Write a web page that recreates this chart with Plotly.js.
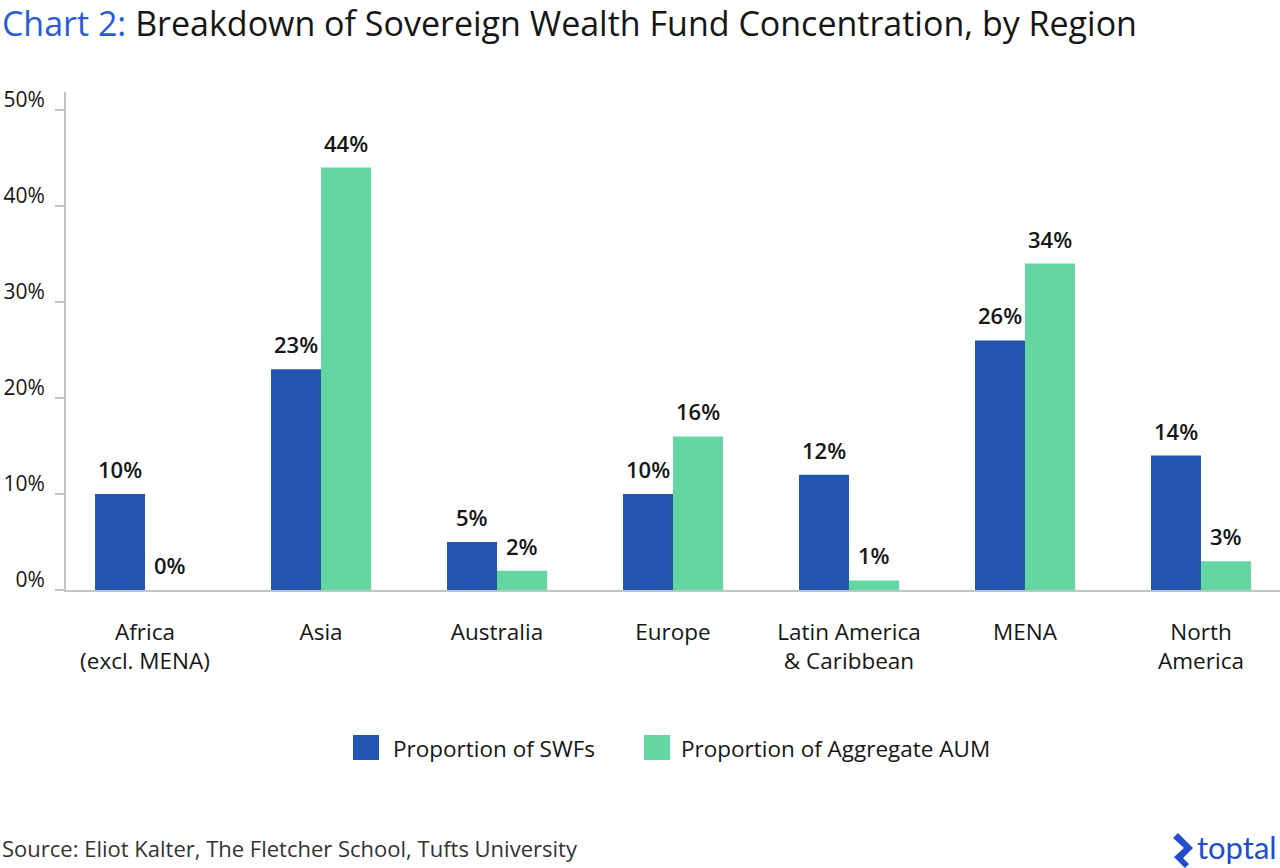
<!DOCTYPE html>
<html>
<head>
<meta charset="utf-8">
<script src="https://cdn.plot.ly/plotly-3.0.1.min.js"></script>
<style>
  html, body { margin: 0; padding: 0; background: #ffffff; }
  #chart { width: 1280px; height: 868px; }
</style>
</head>
<body>
<div id="chart"></div>
<script>
// Regions and their two-line axis labels
const categories = ['Africa (excl. MENA)', 'Asia', 'Australia', 'Europe',
  'Latin America & Caribbean', 'MENA', 'North America'];
const categoryLabels = ['Africa<br>(excl. MENA)', 'Asia', 'Australia', 'Europe',
  'Latin America<br>& Caribbean', 'MENA', 'North<br>America'];

// Share of sovereign wealth funds (count) and of aggregate assets under management, %
const swfShare = [10, 23, 5, 10, 12, 26, 14];
const aumShare = [0, 44, 2, 16, 1, 34, 3];

const seriesNames = ['Proportion of SWFs', 'Proportion of Aggregate AUM'];

const yTickValues = [0, 10, 20, 30, 40, 50];
const yTickLabels = ['0%', '10%', '20%', '30%', '40%', '50%'];

const BLUE = '#2155b0';
const GREEN = '#64d6a2';
const FONT = 'Open Sans, Lato, sans-serif';
const INK = '#161616';

// Page geometry
const W = 1280, H = 868;
const M = { l: 66, r: 0, t: 92, b: 278 };
const plotW = W - M.l - M.r;
const plotH = H - M.t - M.b;
const px2x = px => (px - M.l) / plotW;
const px2y = py => (H - M.b - py) / plotH;

const bargap = 0.432;
const halfBar = (1 - bargap) / 4;

const traces = [
  { type: 'bar', name: seriesNames[0], x: categories, y: swfShare,
    marker: { color: BLUE, line: { width: 0 } }, showlegend: false, hoverinfo: 'skip' },
  { type: 'bar', name: seriesNames[1], x: categories, y: aumShare,
    marker: { color: GREEN, line: { width: 0 } }, showlegend: false, hoverinfo: 'skip' }
];

// Value labels above each bar
const annotations = [];
[swfShare, aumShare].forEach((vals, s) => {
  vals.forEach((v, i) => {
    annotations.push({
      x: i + (s === 0 ? -halfBar : halfBar), xref: 'x',
      y: v, yref: 'y', yanchor: 'middle', yshift: 25,
      text: v + '%', showarrow: false,
      font: { family: FONT, size: 22, weight: 600, color: INK }
    });
  });
});

// Legend built from swatches and text
const shapes = [];
const legendItems = [
  { color: BLUE, x0: 353, text: seriesNames[0], tx: 391 },
  { color: GREEN, x0: 644, text: seriesNames[1], tx: 679 }
];
legendItems.forEach(it => {
  shapes.push({ type: 'rect', xref: 'paper', yref: 'paper',
    x0: px2x(it.x0), x1: px2x(it.x0 + 26), y0: px2y(760), y1: px2y(735),
    fillcolor: it.color, line: { width: 0 } });
  annotations.push({ xref: 'paper', yref: 'paper', x: px2x(it.tx), y: px2y(748),
    xanchor: 'left', yanchor: 'middle', text: it.text, showarrow: false,
    font: { family: FONT, size: 22.5, color: INK } });
});

// Source note
annotations.push({ xref: 'paper', yref: 'paper', x: px2x(0), y: px2y(848),
  xanchor: 'left', yanchor: 'middle', showarrow: false,
  text: 'Source: Eliot Kalter, The Fletcher School, Tufts University',
  font: { family: FONT, size: 22, color: '#333333' } });

// Brand mark
const logoPts = [[1178,833],[1193,848],[1183,858],[1189,864],[1185,868],[1174,857],[1184,848],[1173,838]];
shapes.push({ type: 'path', xref: 'paper', yref: 'paper',
  path: 'M' + logoPts.map(p => px2x(p[0]) + ',' + px2y(p[1])).join(' L') + ' Z',
  fillcolor: '#204ecf', line: { width: 0 } });
annotations.push({ xref: 'paper', yref: 'paper', x: px2x(1279), y: px2y(847),
  xanchor: 'right', yanchor: 'middle', showarrow: false, text: 'toptal',
  font: { family: 'Lato, sans-serif', size: 31, color: '#204ecf' } });

const layout = {
  width: W, height: H,
  margin: M,
  paper_bgcolor: '#ffffff', plot_bgcolor: '#ffffff',
  font: { family: FONT, color: INK },
  title: {
    text: '<span style="color:#2a5bd7">Chart 2:</span> Breakdown of Sovereign Wealth Fund Concentration, by Region',
    xref: 'container', yref: 'container', x: 0.0015, xanchor: 'left',
    y: 1 - 24 / H, yanchor: 'middle',
    font: { family: FONT, size: 34, color: INK }
  },
  barmode: 'group', bargap: bargap, bargroupgap: 0,
  xaxis: {
    type: 'category', range: [-0.449, 6.449],
    tickvals: categories, ticktext: categoryLabels,
    showline: true, linecolor: '#c4c4c4', linewidth: 2,
    ticks: '', showgrid: false, zeroline: false,
    tickfont: { family: FONT, size: 22.5, color: INK },
    ticklabelstandoff: 21, fixedrange: true
  },
  yaxis: {
    range: [0, 51.875],
    tickvals: yTickValues, ticktext: yTickLabels,
    showline: true, linecolor: '#c4c4c4', linewidth: 2,
    ticks: 'outside', ticklen: 9, tickwidth: 2, tickcolor: '#c4c4c4',
    showgrid: false, zeroline: false,
    tickfont: { family: FONT, size: 21, color: INK },
    ticklabelshift: -10, ticklabelstandoff: 6, fixedrange: true
  },
  shapes: shapes,
  annotations: annotations,
  showlegend: false
};

Plotly.newPlot('chart', traces, layout, { displayModeBar: false, staticPlot: true });
</script>
</body>
</html>
